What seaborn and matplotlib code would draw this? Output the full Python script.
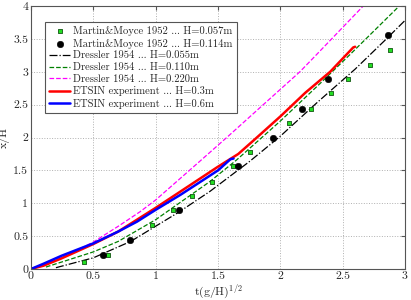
import matplotlib
matplotlib.use("Agg")
import matplotlib.pyplot as plt
import seaborn as sns

# Martin & Moyce 1952 experimental points
mm057_t = [0.425, 0.615, 0.97, 1.136, 1.289, 1.449, 1.62, 1.759, 2.071, 2.243, 2.403, 2.545, 2.716, 2.876]
mm057_x = [0.11, 0.22, 0.67, 0.89, 1.11, 1.33, 1.56, 1.78, 2.22, 2.44, 2.67, 2.89, 3.11, 3.33]
mm114_t = [0.575, 0.794, 1.19, 1.66, 1.938, 2.173, 2.384, 2.863]
mm114_x = [0.22, 0.44, 0.89, 1.56, 2.0, 2.44, 2.89, 3.56]

# Dressler 1954 curves
d055_t = [0.2, 0.5, 0.8, 1.19, 1.435, 1.756, 2.0, 2.3, 2.6, 2.84, 3.0]
d055_x = [0.02, 0.17, 0.42, 0.87, 1.18, 1.64, 2.02, 2.54, 3.04, 3.48, 3.78]
d110_t = [0.12, 0.5, 0.7, 1.0, 1.435, 1.65, 2.0, 2.318, 2.558, 2.954]
d110_x = [0.03, 0.26, 0.42, 0.75, 1.33, 1.66, 2.25, 2.82, 3.26, 4.0]
d220_t = [0.06, 0.3, 0.5, 0.7, 0.874, 1.0, 1.355, 1.582, 2.157, 2.29, 2.665]
d220_x = [0.03, 0.22, 0.41, 0.65, 0.87, 1.05, 1.64, 2.02, 3.0, 3.26, 4.0]

# ETSIN experiments
e03_t = [0.0, 0.1, 0.243, 0.5, 0.7, 1.0, 1.2, 1.5, 1.663, 1.8, 2.0, 2.2, 2.4, 2.5, 2.585, 2.6]
e03_x = [0.0, 0.05, 0.16, 0.38, 0.57, 0.93, 1.18, 1.556, 1.75, 1.98, 2.32, 2.68, 3.0, 3.2, 3.37, 3.38]
e06_t = [0.0, 0.1, 0.243, 0.5, 0.7, 0.85, 1.0, 1.2, 1.5, 1.6, 1.625]
e06_x = [0.0, 0.08, 0.2, 0.39, 0.57, 0.72, 0.9, 1.13, 1.5, 1.67, 1.68]

sns.set_style("white")
plt.rcParams['font.family'] = ['cmr10', 'DejaVu Serif']
plt.rcParams['mathtext.fontset'] = 'cm'
plt.rcParams['axes.formatter.use_mathtext'] = True

fig = plt.figure(figsize=(4.11, 3.0), dpi=100)
ax = fig.add_axes([0.0754, 0.1033, 0.91, 0.8767])

sns.lineplot(x=d055_t, y=d055_x, ax=ax, color='black', linestyle='-.', linewidth=0.9,
             sort=False, estimator=None, label='Dressler 1954 ... H=0.055m')
sns.lineplot(x=d110_t, y=d110_x, ax=ax, color='#008000', linestyle='--', linewidth=0.9,
             sort=False, estimator=None, label='Dressler 1954 ... H=0.110m')
sns.lineplot(x=d220_t, y=d220_x, ax=ax, color='#ff00ff', linestyle='--', linewidth=0.9,
             sort=False, estimator=None, label='Dressler 1954 ... H=0.220m')
sns.lineplot(x=e03_t, y=e03_x, ax=ax, color='#ff0000', linewidth=1.8,
             sort=False, estimator=None, label='ETSIN experiment ... H=0.3m')
sns.lineplot(x=e06_t, y=e06_x, ax=ax, color='#0000ff', linewidth=1.8,
             sort=False, estimator=None, label='ETSIN experiment ... H=0.6m')
sns.scatterplot(x=mm057_t, y=mm057_x, ax=ax, marker='s', s=9, color='#22dd22',
                edgecolor='#115511', linewidth=0.6, zorder=5,
                label='Martin&Moyce 1952 ... H=0.057m')
sns.scatterplot(x=mm114_t, y=mm114_x, ax=ax, marker='o', s=22, color='black',
                edgecolor='black', zorder=5, label='Martin&Moyce 1952 ... H=0.114m')

ax.set_xlim(0, 3)
ax.set_ylim(0, 4)
ax.set_xticks([0, 0.5, 1, 1.5, 2, 2.5, 3])
ax.set_yticks([0, 0.5, 1, 1.5, 2, 2.5, 3, 3.5, 4])
ax.set_xticklabels(['0', '0.5', '1', '1.5', '2', '2.5', '3'])
ax.set_yticklabels(['0', '0.5', '1', '1.5', '2', '2.5', '3', '3.5', '4'])
ax.grid(True, linestyle=':', color='#b0b0b0', linewidth=0.7)
ax.tick_params(direction='in', length=3, labelsize=8.5, top=True, right=True,
               color='#555555', pad=2)
for sp in ax.spines.values():
    sp.set_color('#555555')
    sp.set_linewidth(0.8)
ax.set_xlabel(r't(g/H)$^{1/2}$', fontsize=8.5, labelpad=1)
ax.set_ylabel('x/H', fontsize=8.5, labelpad=2)

handles, labels = ax.get_legend_handles_labels()
order = [5, 6, 0, 1, 2, 3, 4]
leg = ax.legend([handles[i] for i in order], [labels[i] for i in order],
                loc='upper left', bbox_to_anchor=(0.037, 0.939), borderaxespad=0,
                fontsize=7.6, fancybox=False, framealpha=1, edgecolor='#555555',
                handlelength=2.0, handletextpad=0.3, labelspacing=0.22,
                borderpad=0.4, markerscale=1.0)
leg.get_frame().set_linewidth(0.8)

fig.savefig('out.png', dpi=100)
